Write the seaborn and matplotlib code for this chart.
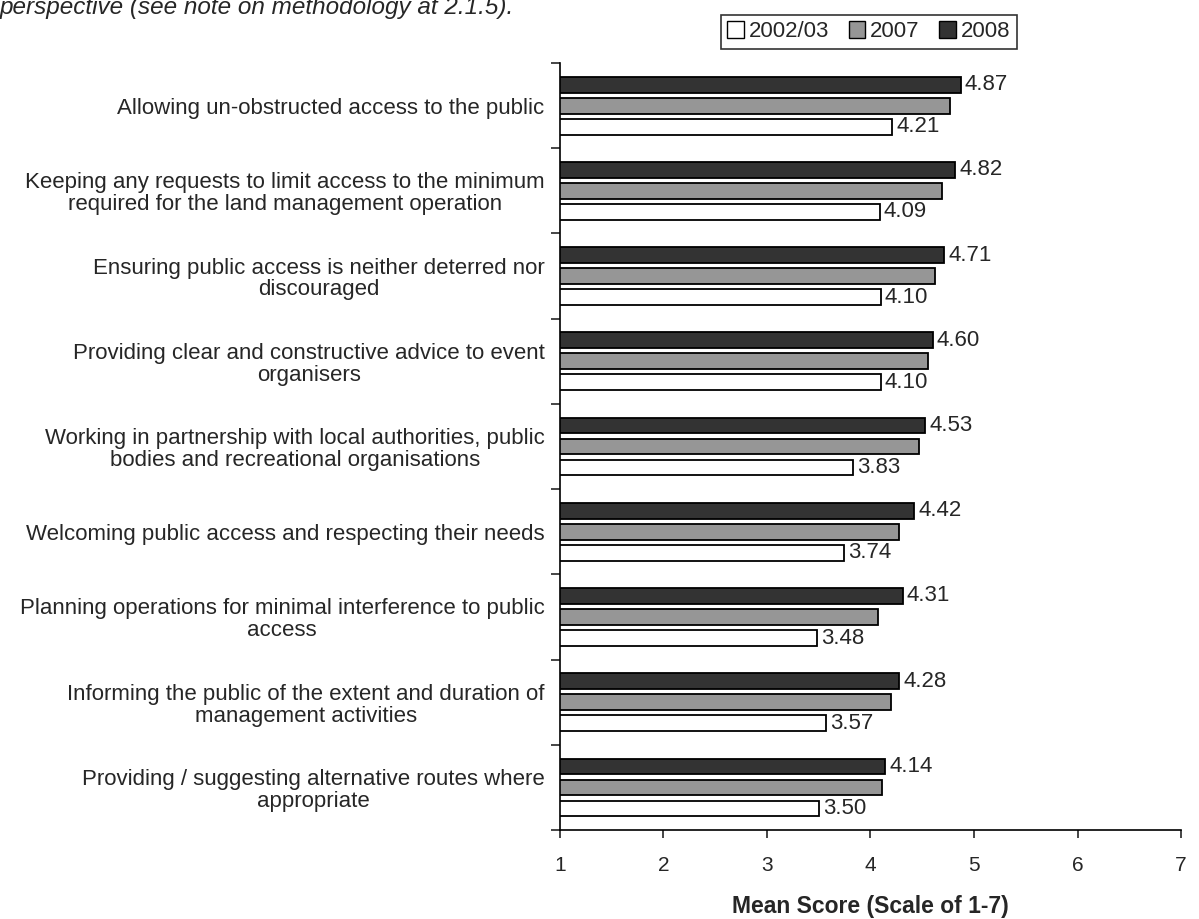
import pandas as pd
import matplotlib.pyplot as plt
import matplotlib.patches as mpatches
import seaborn as sns

CATEGORIES = [
    "Allowing un-obstructed access to the public",
    "Keeping any requests to limit access to the minimum\nrequired for the land management operation",
    "Ensuring public access is neither deterred nor\ndiscouraged",
    "Providing clear and constructive advice to event\norganisers",
    "Working in partnership with local authorities, public\nbodies and recreational organisations",
    "Welcoming public access and respecting their needs",
    "Planning operations for minimal interference to public\naccess",
    "Informing the public of the extent and duration of\nmanagement activities",
    "Providing / suggesting alternative routes where\nappropriate",
]
YEARS = ["2002/03", "2007", "2008"]
SCORES_2002 = [4.21, 4.09, 4.10, 4.10, 3.83, 3.74, 3.48, 3.57, 3.50]
SCORES_2007 = [4.77, 4.69, 4.62, 4.56, 4.47, 4.28, 4.07, 4.20, 4.11]
SCORES_2008 = [4.87, 4.82, 4.71, 4.60, 4.53, 4.42, 4.31, 4.28, 4.14]
COLORS = {"2002/03": "white", "2007": "#969696", "2008": "#333333"}

sns.set_style("white")
plt.rcParams["font.family"] = ["Liberation Sans", "DejaVu Sans"]

df = pd.DataFrame({
    "category": CATEGORIES * 3,
    "year": ["2002/03"] * 9 + ["2007"] * 9 + ["2008"] * 9,
    "score": SCORES_2002 + SCORES_2007 + SCORES_2008,
})

fig = plt.figure(figsize=(11.99, 9.19), dpi=100)
ax = fig.add_axes([0.467, 0.0968, 0.518, 0.8346])

# 2008 at the top of each group, 2002/03 at the bottom
sns.barplot(data=df, y="category", x="score", hue="year", order=CATEGORIES,
            hue_order=["2008", "2007", "2002/03"], palette=COLORS, orient="h",
            width=0.74, gap=0.25, edgecolor="black", linewidth=1.3,
            legend=False, ax=ax)

# value labels only for 2008 and 2002/03
for idx in (0, 2):
    ax.bar_label(ax.containers[idx], fmt="%.2f", padding=3, fontsize=16)

ax.set_xlim(1, 7)
ax.set_ylim(8.5, -0.5)
ax.set_xticks(range(1, 8))
ax.set_yticks([i - 0.5 for i in range(10)], minor=True)
ax.tick_params(axis="y", which="major", length=0, pad=11, labelsize=16)
ax.tick_params(axis="y", which="minor", length=6.5, width=1.2, direction="out", left=True)
ax.tick_params(axis="x", length=6, width=1.2, direction="out", bottom=True, pad=13, labelsize=15)
for lbl in ax.get_yticklabels():
    lbl.set_multialignment("center")
    lbl.set_linespacing(1.05)

ax.set_xlabel("Mean Score (Scale of 1-7)", fontsize=16.5, fontweight="bold", labelpad=14)
ax.set_ylabel("")
sns.despine(ax=ax)
for side in ("left", "bottom"):
    ax.spines[side].set_color("black")
    ax.spines[side].set_linewidth(1.2)

handles = [mpatches.Patch(facecolor=COLORS[y], edgecolor="black", linewidth=1.0, label=y)
           for y in YEARS]
leg = fig.legend(handles=handles, loc="center", bbox_to_anchor=(0.7245, 0.9655), ncol=3,
                 fontsize=16, frameon=True, fancybox=False, handlelength=0.75,
                 handleheight=0.75, handletextpad=0.2, columnspacing=0.9,
                 borderpad=0.3, borderaxespad=0)
leg.get_frame().set_edgecolor("black")
leg.get_frame().set_linewidth(1.2)

fig.text(0.0, 1 - 14 / 919, "perspective (see note on methodology at 2.1.5).",
         fontsize=17.5, style="italic", va="baseline", ha="left")

fig.savefig("out.png", dpi=100)
